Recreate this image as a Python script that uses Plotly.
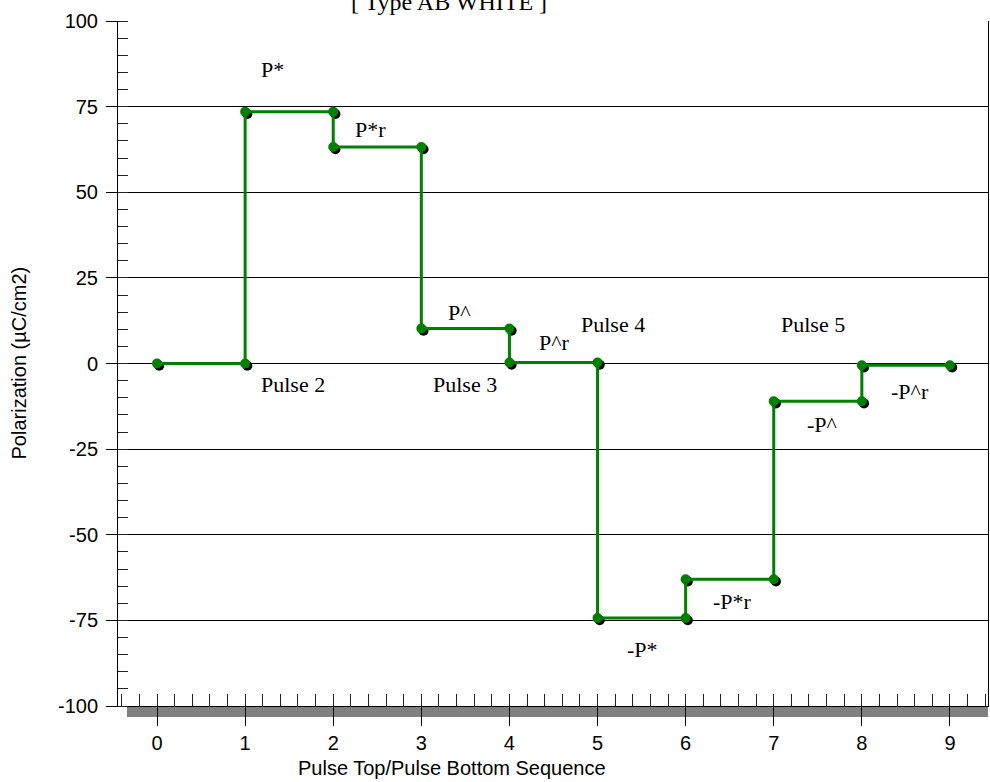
import plotly.graph_objects as go

# Step sequence: each pulse position appears twice (value before / after switching)
pulse_x = [0, 1, 1, 2, 2, 3, 3, 4, 4, 5, 5, 6, 6, 7, 7, 8, 8, 9]
polarization = [0.0, 0.0, 73.5, 73.5, 63.2, 63.2, 10.2, 10.2, 0.3, 0.3,
                -74.3, -74.3, -63.0, -63.0, -11.0, -11.0, -0.5, -0.5]

# Text labels placed along the sequence (x, y in data units)
label_text = ["P*", "P*r", "P^", "P^r", "Pulse 2", "Pulse 3", "Pulse 4",
              "Pulse 5", "-P*", "-P*r", "-P^", "-P^r"]
label_x = [1.31, 2.42, 3.43, 4.51, 1.54, 3.50, 5.17, 7.44, 5.51, 6.53, 7.55, 8.55]
label_y = [85.7, 68.4, 14.9, 6.1, -6.1, -6.1, 11.4, 11.4, -83.4, -69.4, -17.8, -8.3]

x_ticks = list(range(0, 10))
y_ticks = [-100, -75, -50, -25, 0, 25, 50, 75, 100]

title_text = "[ Type AB WHITE ]"
x_title = "Pulse Top/Pulse Bottom Sequence"
y_title = "Polarization (µC/cm2)"

GREEN = "#008000"
SANS = "Liberation Sans, Arial, sans-serif"
SERIF = "Liberation Serif, Times New Roman, serif"

X_RANGE = [-0.443, 9.432]
Y_RANGE = [-100, 100]
PLOT_W = 870.0
PLOT_H = 685.0
# small pixel offset for the marker drop shadow
dx = 2.2 * (X_RANGE[1] - X_RANGE[0]) / PLOT_W
dy = 2.2 * (Y_RANGE[1] - Y_RANGE[0]) / PLOT_H

fig = go.Figure()

# marker shadow (overlay axes x2/y2, shifted a couple of pixels)
fig.add_trace(go.Scatter(
    x=pulse_x, y=polarization, mode="markers",
    marker=dict(color="black", size=10),
    xaxis="x2", yaxis="y2", hoverinfo="skip", showlegend=False,
))

# step line + markers (overlay axes x3/y3, same range as the main axes)
fig.add_trace(go.Scatter(
    x=pulse_x, y=polarization, mode="lines+markers",
    line=dict(color=GREEN, width=3),
    marker=dict(color=GREEN, size=10),
    xaxis="x3", yaxis="y3", showlegend=False,
))

# an empty trace on the main axes, and one on the minor-tick axis
fig.add_trace(go.Scatter(x=[None], y=[None], showlegend=False, hoverinfo="skip"))
fig.add_trace(go.Scatter(x=[None], y=[None], xaxis="x4", yaxis="y",
                         showlegend=False, hoverinfo="skip"))

annotations = []
for t, x, y in zip(label_text, label_x, label_y):
    annotations.append(dict(
        x=x, y=y, xref="x", yref="y", text=t, showarrow=False,
        font=dict(family=SERIF, size=22, color="black"),
        xanchor="center", yanchor="middle",
    ))

# title (partly above the page edge)
annotations.append(dict(
    x=(449 - 118) / PLOT_W, y=1 + 19 / PLOT_H, xref="paper", yref="paper",
    text=title_text, showarrow=False, xanchor="center", yanchor="middle",
    font=dict(family=SERIF, size=24, color="black"),
))
# axis titles
annotations.append(dict(
    x=(452 - 118) / PLOT_W, y=-(768 - 706) / PLOT_H, xref="paper", yref="paper",
    text=x_title, showarrow=False, xanchor="center", yanchor="middle",
    font=dict(family=SANS, size=20, color="black"),
))
annotations.append(dict(
    x=-(118 - 18) / PLOT_W, y=0.5, xref="paper", yref="paper",
    text=y_title, showarrow=False, xanchor="center", yanchor="middle",
    textangle=-90, font=dict(family=SANS, size=20, color="black"),
))

# grey bar under the x axis
shapes = [dict(
    type="rect", xref="paper", yref="paper", ysizemode="pixel", yanchor=0,
    x0=(127 - 118) / PLOT_W, x1=1, y0=0, y1=-11,
    fillcolor="#808080", line=dict(width=0), layer="below",
)]

fig.update_layout(
    width=990, height=782,
    margin=dict(l=118, r=2, t=21, b=76),
    paper_bgcolor="white", plot_bgcolor="white",
    showlegend=False,
    annotations=annotations,
    shapes=shapes,
    xaxis=dict(
        range=X_RANGE, tickvals=x_ticks, ticktext=[str(v) for v in x_ticks],
        ticks="outside", ticklen=19, tickwidth=1.3, tickcolor="black",
        showline=True, linecolor="black", linewidth=1,
        showgrid=False, zeroline=False,
        tickfont=dict(family=SANS, size=20, color="black"),
    ),
    yaxis=dict(
        range=Y_RANGE, tickvals=y_ticks, ticktext=[str(v) for v in y_ticks],
        ticks="outside", ticklen=11, tickwidth=1, tickcolor="black",
        ticklabelstandoff=4,
        showline=True, linecolor="black", linewidth=1, mirror=True,
        showgrid=True, gridcolor="black", gridwidth=1,
        zeroline=False,
        tickfont=dict(family=SANS, size=20, color="black"),
        minor=dict(dtick=5, tick0=0, ticks="inside", ticklen=10,
                   tickcolor="#222", tickwidth=1.2, showgrid=False),
    ),
    xaxis2=dict(
        range=[X_RANGE[0] - dx, X_RANGE[1] - dx], overlaying="x",
        visible=False, anchor="y2",
    ),
    yaxis2=dict(
        range=[Y_RANGE[0] + dy, Y_RANGE[1] + dy], overlaying="y",
        visible=False, anchor="x2",
    ),
    xaxis3=dict(range=X_RANGE, overlaying="x", visible=False, anchor="y3"),
    yaxis3=dict(range=Y_RANGE, overlaying="y", visible=False, anchor="x3"),
    xaxis4=dict(
        range=X_RANGE, overlaying="x", side="bottom", anchor="y",
        tick0=0, dtick=0.2, ticks="inside", ticklen=12, tickwidth=1.3,
        tickcolor="#222", showticklabels=False, showgrid=False,
        zeroline=False, showline=False,
    ),
)

fig.write_html("out.html")
